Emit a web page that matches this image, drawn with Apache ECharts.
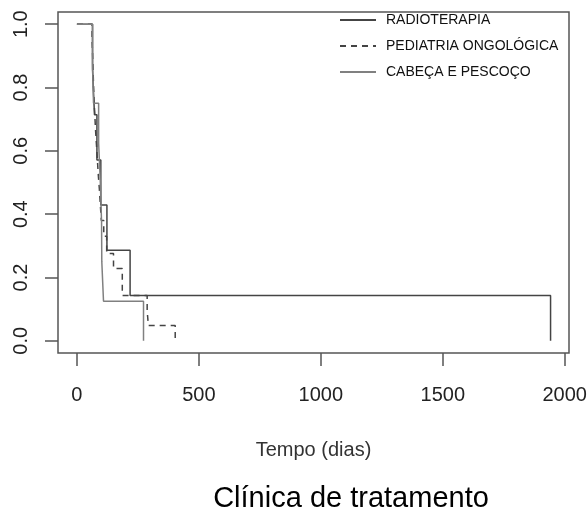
<!DOCTYPE html>
<html>
<head>
<meta charset="utf-8">
<script src="https://cdn.jsdelivr.net/npm/echarts@6/dist/echarts.min.js"></script>
<style>
  html, body { margin: 0; padding: 0; background: #fff; }
  #chart { width: 588px; height: 510px; }
</style>
</head>
<body>
<div id="chart"></div>
<script>
// Kaplan-Meier curves (tempo em dias, sobrevida)
const radioT = [0, 64, 72, 82, 98, 123, 218, 1942]
const radioS = [1, 0.857, 0.714, 0.571, 0.429, 0.286, 0.143, 0]

const pedT = [0, 62, 64, 66, 68, 70, 73, 76, 80, 84, 88, 92, 96, 100, 110, 122, 150, 186, 288, 293, 403]
const pedS = [1, 0.95, 0.91, 0.86, 0.81, 0.76, 0.72, 0.67, 0.62, 0.57, 0.52, 0.48, 0.43, 0.38, 0.33, 0.276, 0.228, 0.143, 0.095, 0.048, 0]

const cabT = [0, 64, 68, 89, 96, 101, 102, 109, 273]
const cabS = [1, 0.875, 0.75, 0.625, 0.5, 0.375, 0.25, 0.125, 0]

const seriesNames = ['RADIOTERAPIA', 'PEDIATRIA ONGOLÓGICA', 'CABEÇA E PESCOÇO']
const xTicks = [0, 500, 1000, 1500, 2000]
const yTicks = [0, 0.2, 0.4, 0.6, 0.8, 1]

function pairs (t, s) {
  return t.map((v, i) => [v, s[i]])
}

const chart = echarts.init(document.getElementById('chart'))
const font = 'Liberation Sans, Arial, sans-serif'

chart.setOption({
  animation: false,
  textStyle: { fontFamily: font },
  title: {
    text: 'Clínica de tratamento',
    left: 346,
    textAlign: 'center',
    top: 479,
    textStyle: { fontSize: 29, fontWeight: 'normal', color: '#000', fontFamily: font }
  },
  legend: {
    orient: 'vertical',
    left: 339,
    top: 13,
    padding: 0,
    itemWidth: 36,
    itemHeight: 14,
    itemGap: 12,
    data: seriesNames,
    itemStyle: { opacity: 0 },
    textStyle: { fontSize: 14, color: '#111', padding: [0, 0, 0, 5] }
  },
  grid: {
    left: 58,
    top: 12,
    right: 19,
    bottom: 157,
    outerBoundsMode: 'none',
    containLabel: false,
    show: true,
    borderColor: '#555',
    borderWidth: 1.5
  },
  xAxis: {
    type: 'value',
    min: -77.6,
    max: 2017.6,
    name: 'Tempo (dias)',
    nameLocation: 'middle',
    nameGap: 87,
    nameTextStyle: { fontSize: 20, color: '#333' },
    axisLine: { show: false, onZero: false },
    splitLine: { show: false },
    axisTick: { show: true, length: 13, customValues: xTicks, lineStyle: { color: '#555', width: 1.5 } },
    axisLabel: { customValues: xTicks, fontSize: 20, color: '#222', margin: 32, formatter: v => String(v) }
  },
  yAxis: {
    type: 'value',
    min: -0.0385,
    max: 1.0385,
    axisLine: { show: false, onZero: false },
    splitLine: { show: false },
    axisTick: { show: true, length: 13, customValues: yTicks, lineStyle: { color: '#555', width: 1.5 } },
    axisLabel: {
      customValues: yTicks,
      fontSize: 20,
      color: '#222',
      rotate: 90,
      margin: 27,
      formatter: v => v.toFixed(1)
    }
  },
  series: [
    {
      name: seriesNames[0],
      type: 'line',
      step: 'end',
      symbol: 'none',
      data: pairs(radioT, radioS),
      itemStyle: { color: '#333' },
      lineStyle: { color: '#444', width: 1.5 }
    },
    {
      name: seriesNames[1],
      type: 'line',
      step: 'end',
      symbol: 'none',
      data: pairs(pedT, pedS),
      itemStyle: { color: '#333' },
      lineStyle: { color: '#444', width: 1.5, type: [6, 5] }
    },
    {
      name: seriesNames[2],
      type: 'line',
      step: 'end',
      symbol: 'none',
      data: pairs(cabT, cabS),
      itemStyle: { color: '#777' },
      lineStyle: { color: '#808080', width: 1.5 }
    }
  ]
})
</script>
</body>
</html>
